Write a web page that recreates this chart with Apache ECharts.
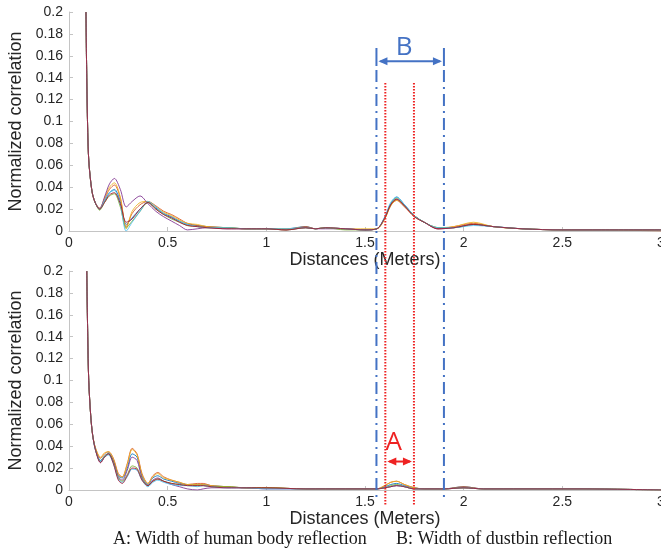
<!DOCTYPE html>
<html>
<head>
<meta charset="utf-8">
<script src="https://cdn.jsdelivr.net/npm/echarts@6/dist/echarts.min.js"></script>
<style>
  html, body { margin: 0; padding: 0; background: #fff; }
  #chart { width: 661px; height: 554px; }
</style>
</head>
<body>
<div id="chart"></div>
<script>
// distances (meters) sampled for each panel
var distTop = [0.086, 0.09, 0.095, 0.1, 0.11, 0.12, 0.135, 0.155, 0.18, 0.205, 0.23, 0.26, 0.29, 0.32, 0.36, 0.40, 0.44, 0.48, 0.52, 0.56, 0.6, 0.65, 0.7, 0.8, 0.9, 1.0, 1.1, 1.2, 1.25, 1.3, 1.4, 1.5, 1.56, 1.6, 1.63, 1.66, 1.7, 1.75, 1.8, 1.87, 1.95, 2.05, 2.15, 2.3, 2.5, 2.7, 3.0];
var distBottom = [0.09, 0.095, 0.1, 0.11, 0.12, 0.135, 0.16, 0.18, 0.2, 0.225, 0.25, 0.27, 0.295, 0.32, 0.345, 0.37, 0.4, 0.425, 0.45, 0.48, 0.52, 0.56, 0.6, 0.65, 0.68, 0.72, 0.8, 0.9, 1.0, 1.2, 1.4, 1.56, 1.6, 1.63, 1.66, 1.7, 1.75, 1.8, 1.9, 2.0, 2.1, 2.3, 2.6, 3.0];

// top panel: normalized correlation, one array per measurement
var topS1 = [0.2,0.14,0.09,0.065,0.045,0.033,0.025,0.02,0.027,0.035,0.038,0.027,0.006,0.012,0.02,0.026,0.021,0.016,0.013,0.009,0.006,0.005,0.004,0.003,0.002,0.002,0.002,0.004,0.002,0.003,0.002,0.001,0.002,0.012,0.025,0.031,0.024,0.014,0.008,0.003,0.003,0.006,0.004,0.002,0.001,0.001,0.001];
var topS2 = [0.2,0.14,0.09,0.065,0.045,0.033,0.025,0.021,0.029,0.038,0.042,0.03,0.004,0.016,0.024,0.027,0.023,0.018,0.015,0.011,0.007,0.005,0.004,0.003,0.002,0.002,0.001,0.004,0.002,0.003,0.002,0.001,0.002,0.011,0.023,0.028,0.022,0.013,0.008,0.002,0.004,0.007,0.004,0.002,0.001,0.001,0.0];
var topS3 = [0.2,0.14,0.09,0.065,0.045,0.033,0.025,0.02,0.03,0.04,0.044,0.031,0.002,0.018,0.026,0.027,0.022,0.017,0.014,0.01,0.007,0.006,0.004,0.003,0.002,0.002,0.002,0.003,0.002,0.003,0.002,0.002,0.002,0.011,0.023,0.028,0.023,0.014,0.008,0.003,0.004,0.008,0.004,0.002,0.001,0.001,0.001];
var topS4 = [0.2,0.14,0.09,0.065,0.045,0.033,0.025,0.02,0.031,0.043,0.048,0.038,0.022,0.027,0.032,0.025,0.018,0.013,0.009,0.005,0.001,0.002,0.003,0.002,0.002,0.002,0.001,0.003,0.002,0.002,0.002,0.001,0.002,0.012,0.024,0.029,0.023,0.014,0.008,0.002,0.003,0.006,0.004,0.002,0.001,0.001,0.001];
var topS5 = [0.2,0.14,0.09,0.065,0.045,0.033,0.025,0.019,0.026,0.032,0.034,0.022,0.003,0.009,0.018,0.026,0.02,0.015,0.011,0.008,0.005,0.004,0.003,0.003,0.002,0.002,0.001,0.003,0.002,0.003,0.001,0.001,0.002,0.012,0.024,0.03,0.023,0.014,0.008,0.003,0.003,0.006,0.004,0.002,0.001,0.001,0.001];
var topS6 = [0.2,0.14,0.09,0.065,0.045,0.033,0.025,0.02,0.028,0.035,0.037,0.024,0.0,0.008,0.018,0.027,0.022,0.016,0.012,0.009,0.006,0.004,0.003,0.003,0.002,0.002,0.002,0.003,0.002,0.003,0.002,0.001,0.002,0.013,0.026,0.031,0.024,0.014,0.008,0.003,0.003,0.005,0.004,0.002,0.001,0.001,0.001];
var topS7 = [0.2,0.14,0.09,0.065,0.045,0.033,0.025,0.02,0.026,0.033,0.035,0.025,0.008,0.011,0.02,0.026,0.02,0.015,0.012,0.008,0.005,0.004,0.003,0.002,0.002,0.002,0.001,0.003,0.002,0.003,0.002,0.001,0.002,0.012,0.024,0.029,0.023,0.013,0.008,0.002,0.003,0.006,0.004,0.002,0.001,0.001,0.001];

// bottom panel
var botS1 = [0.2,0.14,0.1,0.068,0.05,0.037,0.027,0.031,0.034,0.027,0.013,0.011,0.02,0.033,0.03,0.013,0.005,0.011,0.013,0.01,0.008,0.006,0.005,0.005,0.005,0.004,0.003,0.002,0.002,0.001,0.001,0.001,0.003,0.005,0.006,0.004,0.002,0.001,0.001,0.003,0.001,0.001,0.001,0.0];
var botS2 = [0.2,0.14,0.1,0.068,0.05,0.038,0.029,0.033,0.035,0.029,0.015,0.012,0.024,0.038,0.033,0.015,0.006,0.013,0.016,0.012,0.009,0.007,0.005,0.006,0.006,0.004,0.003,0.002,0.002,0.001,0.001,0.001,0.004,0.007,0.008,0.005,0.002,0.001,0.001,0.003,0.001,0.001,0.001,0.0];
var botS3 = [0.2,0.14,0.1,0.068,0.05,0.038,0.03,0.034,0.035,0.028,0.014,0.012,0.023,0.037,0.032,0.014,0.006,0.012,0.015,0.011,0.009,0.007,0.005,0.005,0.005,0.004,0.003,0.002,0.002,0.001,0.001,0.001,0.004,0.007,0.008,0.005,0.002,0.001,0.001,0.002,0.001,0.001,0.001,0.0];
var botS4 = [0.2,0.14,0.1,0.068,0.05,0.036,0.025,0.03,0.033,0.026,0.012,0.009,0.018,0.03,0.027,0.011,0.004,0.009,0.011,0.008,0.005,0.003,0.001,0.0,0.001,0.002,0.002,0.002,0.001,0.001,0.001,0.001,0.002,0.003,0.004,0.003,0.001,0.001,0.001,0.002,0.001,0.001,0.001,0.0];
var botS5 = [0.2,0.14,0.1,0.068,0.05,0.036,0.026,0.031,0.033,0.025,0.011,0.008,0.014,0.022,0.02,0.01,0.004,0.008,0.01,0.008,0.006,0.005,0.004,0.004,0.004,0.003,0.003,0.002,0.002,0.001,0.001,0.001,0.002,0.004,0.005,0.003,0.001,0.001,0.001,0.002,0.001,0.001,0.001,0.0];
var botS6 = [0.2,0.14,0.1,0.068,0.05,0.036,0.026,0.03,0.032,0.024,0.01,0.007,0.012,0.019,0.018,0.009,0.003,0.007,0.009,0.007,0.005,0.004,0.004,0.003,0.004,0.003,0.002,0.002,0.001,0.001,0.001,0.001,0.002,0.003,0.004,0.003,0.001,0.001,0.001,0.002,0.001,0.001,0.001,0.0];
var botS7 = [0.2,0.14,0.1,0.068,0.05,0.036,0.025,0.03,0.033,0.024,0.009,0.006,0.013,0.02,0.019,0.009,0.004,0.008,0.01,0.008,0.006,0.005,0.004,0.004,0.004,0.003,0.002,0.002,0.002,0.001,0.001,0.001,0.002,0.003,0.004,0.003,0.001,0.001,0.001,0.002,0.001,0.001,0.001,0.0];

// annotation widths (meters)
var widthB = [1.558, 1.9];   // dustbin reflection
var widthA = [1.603, 1.748]; // human body reflection

var xTicks = [0, 3, 0.5];
var yTicks = [0, 0.2, 0.02];

var colorList = ["#0072BD", "#D95319", "#EDB120", "#7E2F8E", "#77AC30", "#4DBEEE", "#A2142F"];

var chart = echarts.init(document.getElementById("chart"), null, { renderer: "canvas" });

function pairs(xs, ys) {
  return xs.map(function (x, i) { return [x, ys[i]]; });
}

function makeX(idx) {
  return {
    type: "value",
    gridIndex: idx,
    min: xTicks[0],
    max: xTicks[1],
    interval: xTicks[2],
    name: "Distances (Meters)",
    nameLocation: "middle",
    nameGap: 17,
    nameTextStyle: { fontFamily: "Liberation Sans", fontSize: 18, color: "#262626" },
    axisLine: { show: true, lineStyle: { color: "#c4c4c4", width: 1 } },
    axisTick: { show: true, inside: true, length: 4, lineStyle: { color: "#c4c4c4" } },
    axisLabel: { fontFamily: "Liberation Sans", fontSize: 14, color: "#262626", margin: 5 },
    splitLine: { show: false }
  };
}

function makeY(idx) {
  return {
    type: "value",
    gridIndex: idx,
    min: yTicks[0],
    max: yTicks[1],
    interval: yTicks[2],
    name: "Normalized correlation",
    nameLocation: "middle",
    nameGap: 41,
    nameTextStyle: { fontFamily: "Liberation Sans", fontSize: 18, color: "#262626" },
    axisLine: { show: true, lineStyle: { color: "#c4c4c4", width: 1 } },
    axisTick: { show: true, inside: true, length: 4, lineStyle: { color: "#c4c4c4" } },
    axisLabel: {
      fontFamily: "Liberation Sans", fontSize: 14, color: "#262626", margin: 6,
      formatter: function (v) { return String(+v.toFixed(2)); }
    },
    splitLine: { show: false }
  };
}

var topList = [topS1, topS2, topS3, topS4, topS5, topS6, topS7];
var botList = [botS1, botS2, botS3, botS4, botS5, botS6, botS7];
var series = [];
topList.forEach(function (ys, i) {
  series.push({
    type: "line", xAxisIndex: 0, yAxisIndex: 0, showSymbol: false,
    smooth: 0.3,
    lineStyle: { width: 1, color: colorList[i], opacity: 0.85 },
    data: pairs(distTop, ys)
  });
});
botList.forEach(function (ys, i) {
  series.push({
    type: "line", xAxisIndex: 1, yAxisIndex: 1, showSymbol: false,
    smooth: 0.3,
    lineStyle: { width: 1, color: colorList[i], opacity: 0.85 },
    data: pairs(distBottom, ys)
  });
});

chart.setOption({
  animation: false,
  backgroundColor: "#fff",
  grid: [
    { left: 69, top: 12, width: 592, height: 219, outerBoundsMode: "none" },
    { left: 69, top: 271, width: 592, height: 219, outerBoundsMode: "none" }
  ],
  xAxis: [makeX(0), makeX(1)],
  yAxis: [makeY(0), makeY(1)],
  series: series
});

// annotations placed through the axes
function px(g, x, y) { return chart.convertToPixel({ gridIndex: g }, [x, y]); }

var blue = "#4472C4", red = "#EE2222";
var graphic = [];
var topY = px(0, 0, 0.2)[1];
var botY0 = px(1, 0, 0)[1];

widthB.forEach(function (v) {
  var x = px(0, v, 0)[0];
  graphic.push({ type: "line", z: 100, shape: { x1: x, y1: topY + 36, x2: x, y2: topY + 54 },
    style: { stroke: blue, lineWidth: 2 } });
  graphic.push({ type: "line", z: 100, shape: { x1: x, y1: topY + 58, x2: x, y2: botY0 + 9 },
    style: { stroke: blue, lineWidth: 2, lineDash: [12, 5, 2, 5] } });
});
widthA.forEach(function (v) {
  var x = px(0, v, 0)[0];
  graphic.push({ type: "line", z: 100, shape: { x1: x, y1: topY + 71, x2: x, y2: botY0 + 15 },
    style: { stroke: red, lineWidth: 2, lineDash: [1.5, 1.5] } });
});

function arrow(x1, x2, y, color) {
  var h = 4, w = 9;
  graphic.push({ type: "line", z: 101, shape: { x1: x1 + 4, y1: y, x2: x2 - 4, y2: y },
    style: { stroke: color, lineWidth: 2 } });
  graphic.push({ type: "polygon", z: 101, shape: { points: [[x1 + 2, y], [x1 + 2 + w, y - h], [x1 + 2 + w, y + h]] },
    style: { fill: color } });
  graphic.push({ type: "polygon", z: 101, shape: { points: [[x2 - 2, y], [x2 - 2 - w, y - h], [x2 - 2 - w, y + h]] },
    style: { fill: color } });
}

var bx1 = px(0, widthB[0], 0)[0], bx2 = px(0, widthB[1], 0)[0];
var bArrowY = px(0, 0, 0.155)[1];
arrow(bx1, bx2, bArrowY, blue);
graphic.push({ type: "text", z: 101, x: (bx1 + bx2) / 2 - 6, y: bArrowY - 14,
  style: { text: "B", fill: blue, font: "26px 'Open Sans'", textAlign: "center", textVerticalAlign: "middle" } });

var ax1 = px(1, widthA[0], 0)[0], ax2 = px(1, widthA[1], 0)[0];
var aArrowY = px(1, 0, 0.026)[1];
arrow(ax1, ax2, aArrowY, red);
graphic.push({ type: "text", z: 101, x: (ax1 + ax2) / 2 - 6, y: aArrowY - 19,
  style: { text: "A", fill: red, font: "26px 'Open Sans'", textAlign: "center", textVerticalAlign: "middle" } });

graphic.push({ type: "text", left: 113, top: 530,
  style: { text: "A: Width of human body reflection", fill: "#1a1a1a", font: "18px 'Liberation Serif'" } });
graphic.push({ type: "text", left: 396, top: 530,
  style: { text: "B: Width of dustbin reflection", fill: "#1a1a1a", font: "18px 'Liberation Serif'" } });

chart.setOption({ graphic: graphic });
</script>
</body>
</html>
